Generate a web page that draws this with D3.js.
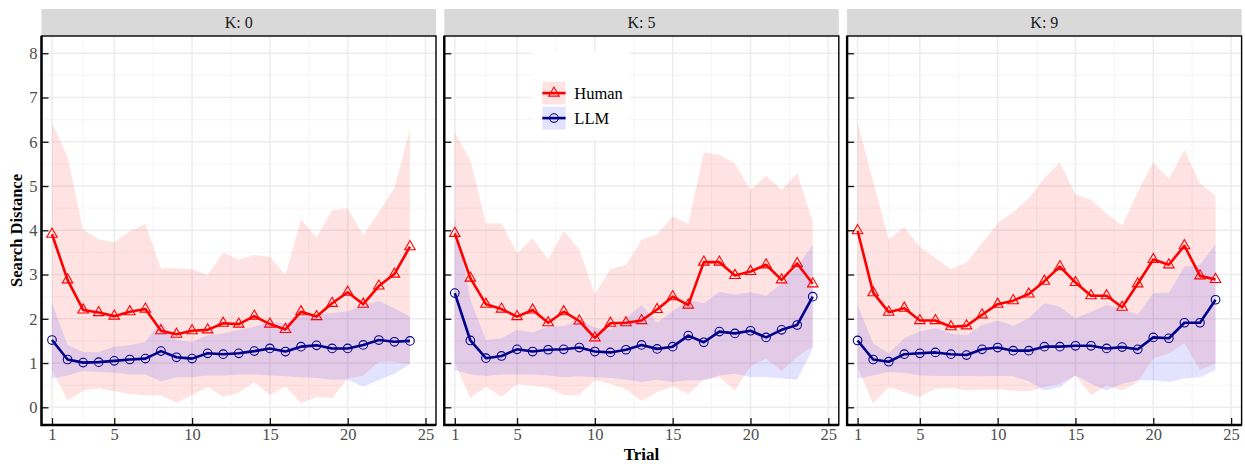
<!DOCTYPE html>
<html><head><meta charset="utf-8">
<script src="https://cdn.jsdelivr.net/npm/d3@7"></script>
<style>body{margin:0;background:#fff}svg{display:block}</style>
</head><body><svg id="c" width="1245" height="464"></svg>
<script>
const trials = d3.range(1, 25);
const panelLabels = ["K: 0", "K: 5", "K: 9"];
const seriesNames = ["Human", "LLM"];
const xTicks = [1, 5, 10, 15, 20, 25];
const xMinor = [3, 7.5, 12.5, 17.5, 22.5];
const yTicks = [0, 1, 2, 3, 4, 5, 6, 7, 8];
const yMinor = [0.5, 1.5, 2.5, 3.5, 4.5, 5.5, 6.5, 7.5];

// K: 0
const humanMean0 = [3.91,2.88,2.20,2.14,2.06,2.16,2.22,1.73,1.65,1.73,1.75,1.90,1.88,2.06,1.88,1.76,2.16,2.05,2.35,2.60,2.33,2.74,3.01,3.63];
const humanHi0   = [6.43,5.66,4.01,3.80,3.73,3.98,4.14,3.14,3.14,3.12,2.99,3.50,3.34,3.44,3.40,2.99,4.25,3.83,4.46,4.50,3.89,4.41,4.95,6.27];
const humanLo0   = [0.85,0.15,0.38,0.43,0.36,0.30,0.27,0.27,0.10,0.27,0.46,0.24,0.33,0.57,0.28,0.47,0.09,0.23,0.21,0.65,0.72,1.03,1.03,0.97];
const llmMean0   = [1.52,1.08,1.01,1.02,1.05,1.08,1.10,1.27,1.13,1.10,1.22,1.20,1.22,1.27,1.33,1.26,1.37,1.40,1.33,1.33,1.41,1.52,1.48,1.50];
const llmHi0     = [2.36,1.41,1.25,1.25,1.37,1.40,1.48,1.94,1.52,1.48,1.63,1.67,1.75,1.82,1.94,1.90,2.05,2.09,2.13,2.17,2.32,2.40,2.24,2.05];
const llmLo0     = [0.65,0.72,0.82,0.80,0.78,0.74,0.74,0.59,0.68,0.68,0.72,0.72,0.74,0.74,0.72,0.70,0.68,0.66,0.62,0.62,0.47,0.61,0.76,0.97];
// K: 5
const humanMean5 = [3.93,2.92,2.33,2.22,2.05,2.20,1.91,2.16,1.95,1.57,1.90,1.91,1.96,2.21,2.50,2.31,3.28,3.28,2.98,3.07,3.22,2.88,3.25,2.79];
const humanHi5   = [6.21,5.59,4.16,4.16,3.48,3.82,3.34,3.99,3.57,2.56,3.12,3.22,3.78,3.91,4.31,4.14,5.76,5.70,5.51,4.91,5.23,4.91,5.29,4.20];
const humanLo5   = [1.00,0.21,0.46,0.24,0.52,0.49,0.44,0.28,0.28,0.61,0.53,0.40,0.14,0.34,0.47,0.30,0.62,0.68,0.38,0.93,1.10,0.82,1.14,1.38];
const llmMean5   = [2.58,1.51,1.11,1.16,1.31,1.26,1.30,1.31,1.35,1.26,1.24,1.30,1.41,1.32,1.37,1.62,1.47,1.71,1.67,1.73,1.58,1.75,1.86,2.50];
const llmHi5     = [4.31,2.43,1.52,1.56,1.75,1.69,1.83,1.83,1.98,1.80,1.76,2.02,2.31,1.91,2.17,2.43,2.35,2.61,2.55,2.60,2.52,2.80,3.18,3.67];
const llmLo5     = [0.84,0.74,0.71,0.74,0.74,0.74,0.72,0.68,0.70,0.68,0.66,0.62,0.57,0.62,0.57,0.61,0.61,0.72,0.76,0.68,0.68,0.65,0.62,1.33];
// K: 9
const humanMean9 = [3.99,2.59,2.15,2.24,1.96,1.96,1.82,1.84,2.09,2.33,2.41,2.56,2.85,3.18,2.82,2.52,2.52,2.26,2.79,3.34,3.22,3.65,2.97,2.89];
const humanHi9   = [6.43,5.10,3.80,4.07,3.63,3.38,3.12,3.27,3.71,4.16,4.41,4.72,5.18,5.53,4.81,4.69,4.38,4.11,4.87,5.54,5.16,5.82,5.06,4.78];
const humanLo9   = [0.90,0.08,0.46,0.34,0.23,0.42,0.44,0.38,0.40,0.40,0.38,0.36,0.46,0.53,0.72,0.27,0.49,0.38,0.57,1.10,1.22,1.44,0.84,0.99];
const llmMean9   = [1.51,1.08,1.03,1.20,1.22,1.24,1.20,1.18,1.31,1.35,1.28,1.28,1.37,1.37,1.39,1.39,1.33,1.36,1.31,1.58,1.56,1.91,1.91,2.43];
const llmHi9     = [2.31,1.45,1.22,1.56,1.71,1.79,1.67,1.63,1.86,1.96,1.84,2.01,2.35,2.27,2.01,2.16,2.31,2.22,2.09,2.58,2.59,3.18,3.22,3.69];
const llmLo9     = [0.65,0.72,0.80,0.78,0.72,0.71,0.71,0.71,0.70,0.71,0.70,0.59,0.38,0.46,0.72,0.53,0.38,0.53,0.61,0.61,0.57,0.65,0.68,0.84];

const panels = [
  {label: panelLabels[0], human: [humanMean0, humanLo0, humanHi0], llm: [llmMean0, llmLo0, llmHi0]},
  {label: panelLabels[1], human: [humanMean5, humanLo5, humanHi5], llm: [llmMean5, llmLo5, llmHi5]},
  {label: panelLabels[2], human: [humanMean9, humanLo9, humanHi9], llm: [llmMean9, llmLo9, llmHi9]}
];

const FONT = "'Liberation Serif','Times New Roman',serif";
const colors = {Human: {line: "#FF0000", fill: "#FF0000"}, LLM: {line: "#00008B", fill: "#0000FF"}};
const bandOpacity = 0.11;

const svg = d3.select("#c");
const panelW = 394.5, gap = 8.3, left0 = 41.5;
const plotTop = 36, plotBottom = 425, stripTop = 9;

const y = d3.scaleLinear().domain([-0.4, 8.39]).range([plotBottom, plotTop]);

function triPath(cx, cy, s) {
  const h = s * Math.sqrt(3) / 2;
  return `M${cx},${cy - h * 2 / 3}L${cx + s / 2},${cy + h / 3}L${cx - s / 2},${cy + h / 3}Z`;
}

panels.forEach((p, i) => {
  const L = left0 + i * (panelW + gap), R = L + panelW;
  const x = d3.scaleLinear().domain([0.326, 25.674]).range([L, R]);
  const g = svg.append("g");

  // strip
  g.append("rect").attr("x", L).attr("y", stripTop).attr("width", panelW).attr("height", plotTop - stripTop).attr("fill", "#D9D9D9");
  g.append("text").attr("x", (L + R) / 2).attr("y", (stripTop + plotTop) / 2).attr("dy", "0.35em")
    .attr("text-anchor", "middle").attr("font-family", FONT).attr("font-size", 16).attr("fill", "#1A1A1A").text(p.label);

  // grid
  const grid = g.append("g");
  yMinor.forEach(v => grid.append("line").attr("x1", L).attr("x2", R).attr("y1", y(v)).attr("y2", y(v)).attr("stroke", "#F2F2F2").attr("stroke-width", 0.8));
  xMinor.forEach(v => grid.append("line").attr("y1", plotTop).attr("y2", plotBottom).attr("x1", x(v)).attr("x2", x(v)).attr("stroke", "#F2F2F2").attr("stroke-width", 0.8));
  yTicks.forEach(v => grid.append("line").attr("x1", L).attr("x2", R).attr("y1", y(v)).attr("y2", y(v)).attr("stroke", "#EDEDED").attr("stroke-width", 1.5));
  xTicks.forEach(v => grid.append("line").attr("y1", plotTop).attr("y2", plotBottom).attr("x1", x(v)).attr("x2", x(v)).attr("stroke", "#EDEDED").attr("stroke-width", 1.5));

  const series = [["Human", p.human], ["LLM", p.llm]];
  // ribbons
  series.forEach(([name, arr]) => {
    const data = trials.map((t, k) => ({t, m: arr[0][k], lo: arr[1][k], hi: arr[2][k]}));
    g.append("path").datum(data)
      .attr("d", d3.area().x(d => x(d.t)).y0(d => y(d.lo)).y1(d => y(d.hi)))
      .attr("fill", colors[name].fill).attr("fill-opacity", bandOpacity);
  });
  // lines
  series.forEach(([name, arr]) => {
    const data = trials.map((t, k) => ({t, m: arr[0][k]}));
    g.append("path").datum(data)
      .attr("d", d3.line().x(d => x(d.t)).y(d => y(d.m)))
      .attr("fill", "none").attr("stroke", colors[name].line).attr("stroke-width", 2.6).attr("stroke-linejoin", "round");
  });
  // points
  series.forEach(([name, arr]) => {
    trials.forEach((t, k) => {
      if (name === "Human") {
        g.append("path").attr("d", triPath(x(t), y(arr[0][k]), 10.5))
          .attr("fill", "none").attr("stroke", colors[name].line).attr("stroke-width", 1.1);
      } else {
        g.append("circle").attr("cx", x(t)).attr("cy", y(arr[0][k])).attr("r", 4.3)
          .attr("fill", "none").attr("stroke", colors[name].line).attr("stroke-width", 1.1);
      }
    });
  });

  // axes (inward ticks)
  const ya = g.append("g").attr("transform", `translate(${L},0)`)
    .call(d3.axisLeft(y).tickValues(yTicks).tickSize(-7).tickPadding(4).tickFormat(i === 0 ? d3.format("d") : () => ""));
  const xa = g.append("g").attr("transform", `translate(0,${plotBottom})`)
    .call(d3.axisBottom(x).tickValues(xTicks).tickSize(-7).tickPadding(3.5).tickFormat(d3.format("d")));
  [ya, xa].forEach(a => {
    a.select(".domain").remove();
    a.selectAll(".tick line").attr("stroke", "#111").attr("stroke-width", 1.3);
    a.selectAll("text").attr("font-family", FONT).attr("font-size", 16.5).attr("fill", "#4D4D4D");
  });

  // border
  g.append("rect").attr("x", L).attr("y", plotTop).attr("width", panelW).attr("height", plotBottom - plotTop)
    .attr("fill", "none").attr("stroke", "#000").attr("stroke-width", 1.4);
  g.append("path").attr("d", `M${L},${plotTop}V${plotBottom}H${R}`).attr("fill", "none").attr("stroke", "#000").attr("stroke-width", 2.4);

  // legend in second panel
  if (i === 1) {
    const lg = svg.append("g");
    lg.append("rect").attr("x", 533).attr("y", 52).attr("width", 97).attr("height", 87).attr("fill", "#fff");
    seriesNames.forEach((name, k) => {
      const ky = 81.7 + k * 25, kh = 22.8, kx = 542.3, kw = 23.3;
      lg.append("rect").attr("x", kx).attr("y", ky).attr("width", kw).attr("height", kh)
        .attr("fill", colors[name].fill).attr("fill-opacity", bandOpacity);
      lg.append("line").attr("x1", kx).attr("x2", kx + kw).attr("y1", ky + kh / 2).attr("y2", ky + kh / 2)
        .attr("stroke", colors[name].line).attr("stroke-width", 2.6);
      if (name === "Human") {
        lg.append("path").attr("d", triPath(kx + kw / 2, ky + kh / 2, 10.5)).attr("fill", "none").attr("stroke", colors[name].line).attr("stroke-width", 1.1);
      } else {
        lg.append("circle").attr("cx", kx + kw / 2).attr("cy", ky + kh / 2).attr("r", 4.3).attr("fill", "none").attr("stroke", colors[name].line).attr("stroke-width", 1.1);
      }
      lg.append("text").attr("x", 574.3).attr("y", ky + kh / 2).attr("dy", "0.35em")
        .attr("font-family", FONT).attr("font-size", 16.5).attr("fill", "#000").text(name);
    });
  }
});

// axis titles
svg.append("text").attr("transform", `translate(${16},${(plotTop + plotBottom) / 2}) rotate(-90)`).attr("dy", "0.35em")
  .attr("text-anchor", "middle").attr("font-family", FONT).attr("font-weight", "bold").attr("font-size", 16.5).text("Search Distance");
svg.append("text").attr("x", left0 + 1.5 * panelW + gap).attr("y", 459.5)
  .attr("text-anchor", "middle").attr("font-family", FONT).attr("font-weight", "bold").attr("font-size", 17).text("Trial");
</script></body></html>
